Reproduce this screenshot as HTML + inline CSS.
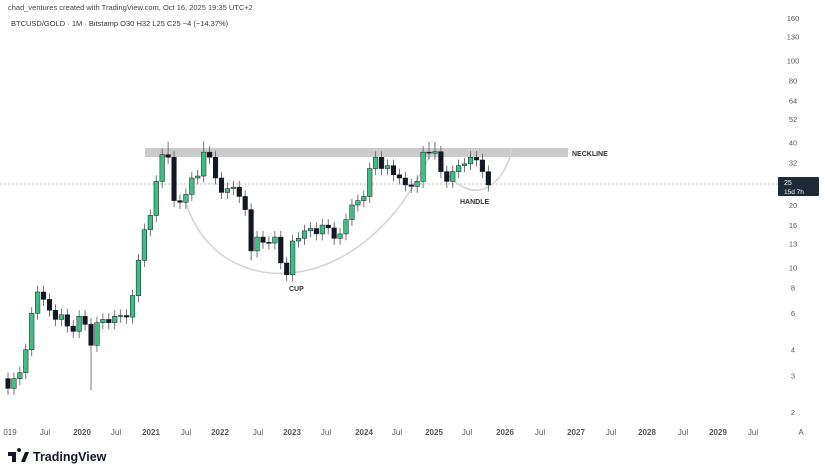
<!DOCTYPE html>
<html><head><meta charset="utf-8"><style>
body{margin:0;background:#fff;width:825px;height:474px;overflow:hidden;font-family:"Liberation Sans",sans-serif}
svg{display:block}
</style></head><body>
<svg id="s" width="825" height="474" xmlns="http://www.w3.org/2000/svg">
<rect width="825" height="474" fill="#fff"/>
<text x="8" y="10" font-size="7.5" fill="#444">chad_ventures created with TradingView.com, Oct 16, 2025 19:35 UTC+2</text>
<text x="11" y="26" font-size="7.5" fill="#333">BTCUSD/GOLD · 1M · Bitstamp  O30  H32  L25  C25  −4 (−14.37%)</text>
<rect x="145" y="148" width="423" height="9" fill="#cbcbcb"/>
<text x="572" y="156" font-size="7" font-weight="bold" fill="#333">NECKLINE</text>
<line x1="0" y1="184" x2="778" y2="184" stroke="#aaa" stroke-width="0.8" stroke-dasharray="2,2"/>
<path d="M185,200 C215,305 365,305 432,150" fill="none" stroke="#d2d2d2" stroke-width="1.5"/>
<path d="M449,176 C470,200 500,195 512,150" fill="none" stroke="#d2d2d2" stroke-width="1.5"/>
<text x="289" y="291" font-size="7" font-weight="bold" fill="#333">CUP</text>
<text x="460" y="204" font-size="7" font-weight="bold" fill="#333">HANDLE</text>
<g id="c"></g>
<g font-size="7.5" fill="#555" text-anchor="middle" id="ax"></g>
<rect x="778" y="177" width="41" height="19" rx="1" fill="#1d2b36"/>
<text x="784" y="185" font-size="7" fill="#fff">25</text>
<text x="784" y="194" font-size="6.5" fill="#fff">15d 7h</text>
<g font-size="8" fill="#555" text-anchor="middle">
<text x="10" y="435">019</text><text x="45" y="435">Jul</text><text x="82" y="435" font-weight="bold">2020</text><text x="116" y="435">Jul</text>
<text x="151" y="435" font-weight="bold">2021</text><text x="186" y="435">Jul</text><text x="220" y="435" font-weight="bold">2022</text><text x="258" y="435">Jul</text>
<text x="292" y="435" font-weight="bold">2023</text><text x="326" y="435">Jul</text><text x="364" y="435" font-weight="bold">2024</text><text x="397" y="435">Jul</text>
<text x="434" y="435" font-weight="bold">2025</text><text x="467" y="435">Jul</text><text x="505" y="435" font-weight="bold">2026</text><text x="540" y="435">Jul</text>
<text x="576" y="435" font-weight="bold">2027</text><text x="611" y="435">Jul</text><text x="647" y="435" font-weight="bold">2028</text><text x="683" y="435">Jul</text>
<text x="718" y="435" font-weight="bold">2029</text><text x="753" y="435">Jul</text><text x="801" y="435">A</text>
</g>
<g transform="translate(8,449)">
<path d="M0,3 h8 v10 h-4 v-6 h-4z M11,3 a2,2 0 1 1 0.1,0 M13,13 l4,-10 h4 l-4,10z" fill="#131722"/>
<text x="25" y="12" font-size="12.5" font-weight="bold" fill="#131722">TradingView</text>
</g>
</svg>
<script>
var NS="http://www.w3.org/2000/svg";
function Y(p){return 412-89.9*Math.log(p/2);}
var ax=document.getElementById("ax");
[160,130,100,80,64,52,40,32,20,16,13,10,8,6,4,3,2].forEach(function(p){
var t=document.createElementNS(NS,"text");t.setAttribute("x",793);t.setAttribute("y",Y(p)+3);t.textContent=p;ax.appendChild(t);});
var cl=[2.6,2.9,3.1,4.0,6.0,7.6,7.0,6.2,5.6,5.9,5.2,4.9,5.8,5.3,4.2,5.4,5.6,5.4,5.8,5.85,5.75,7.3,10.8,15.2,17.8,26,35,34,21,20.6,22.5,27,27.6,36,34,27,23,24,24.4,22,19,12,14,13.2,13.1,14,10.5,9.2,13.4,13.8,15,15.4,14.5,16,15.5,13.8,14.5,17,20,21,22,30,34,30,31,28,27,25,24.6,26,36,35.6,36.2,29,26,29,31,31.6,34,33,29,25];
var g=document.getElementById("c"),o=2.9;
cl.forEach(function(c,i){
var x=8+5.93*i,hi=Math.max(o,c)*1.07,lo=Math.min(o,c)*0.93;
if(i==14)lo=2.55; if(i==27||i==33||i==71||i==72)hi=40.5; if(i==41)lo=10.8;
var up=c>=o,col=up?"#3dbf84":"#131722";
var l=document.createElementNS(NS,"line");l.setAttribute("x1",x);l.setAttribute("x2",x);l.setAttribute("y1",Y(hi));l.setAttribute("y2",Y(lo));l.setAttribute("stroke","#555");l.setAttribute("stroke-width","0.8");g.appendChild(l);
var r=document.createElementNS(NS,"rect"),t=Y(Math.max(o,c)),b=Y(Math.min(o,c));
r.setAttribute("x",x-2.3);r.setAttribute("width",4.6);r.setAttribute("y",t);r.setAttribute("height",Math.max(1,b-t));r.setAttribute("fill",col);r.setAttribute("stroke","#131722");r.setAttribute("stroke-width","0.5");g.appendChild(r);
o=c;});
</script>
</body></html>
